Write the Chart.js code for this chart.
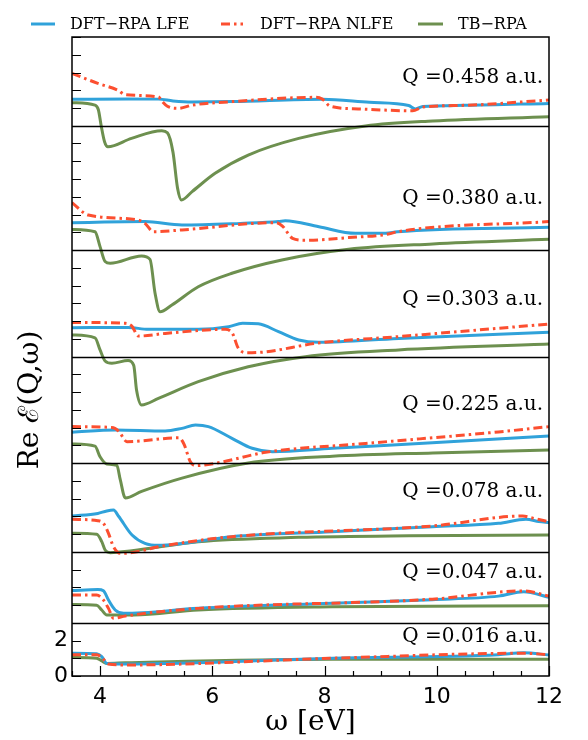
<!DOCTYPE html>
<html>
<head>
<meta charset="utf-8">
<script src="https://cdn.jsdelivr.net/npm/chart.js@4.4.1/dist/chart.umd.min.js"></script>
<style>
  html, body { margin: 0; padding: 0; background: #fff; }
  canvas { display: block; }
</style>
</head>
<body>
<canvas id="chart" width="588" height="740"></canvas>
<script>
// panels, top to bottom
const panelQ = ['0.458', '0.380', '0.303', '0.225', '0.078', '0.047', '0.016'];
const panelOffset = [31, 24, 18, 12, 7, 3, 0];
const yTickLabels = [0, 2];
const xTickLabels = [4, 6, 8, 10, 12];

// [omega (eV), Re eps], relative to the panel offset
const lfe458 = [[3.5,1.49],[4.5,1.51],[5.04,1.5],[5.3,1.4],[5.64,1.34],[6.36,1.36],[7.96,1.49],[8.8,1.32],[9.5,1.14],[9.62,0.95],[9.75,1.08],[10.5,1.15],[12,1.26]];
const nlfe458 = [[3.5,2.95],[3.96,2.39],[4.32,2.0],[4.45,1.75],[5.04,1.62],[5.1,1.4],[5.2,1.1],[5.4,0.98],[5.64,1.16],[6.36,1.36],[7.84,1.6],[7.96,1.5],[8.1,1.1],[8.6,0.95],[9.57,0.84],[9.75,1.05],[10.5,1.15],[12,1.45]];
const tb458 = [[3.5,1.3],[3.91,1.16],[3.97,0.9],[4.02,0.0],[4.08,-0.9],[4.14,-1.18],[4.56,-0.71],[5.1,-0.28],[5.2,-0.4],[5.3,-1.5],[5.38,-3.5],[5.45,-4.18],[5.64,-3.71],[6.05,-2.68],[6.64,-1.65],[7.54,-0.71],[8.73,-0.01],[9.93,0.27],[12,0.51]];

const lfe380 = [[3.5,1.54],[4.8,1.6],[5.46,1.41],[6.5,1.5],[7.18,1.6],[7.3,1.65],[7.9,1.31],[8.55,0.94],[9.09,0.94],[9.3,1.03],[12,1.28]];
const nlfe380 = [[3.5,2.67],[3.79,1.97],[4.68,1.69],[4.8,1.5],[4.95,1.03],[5.46,1.13],[7.13,1.54],[7.25,1.35],[7.43,0.66],[7.66,0.55],[8.43,0.7],[9.14,0.9],[9.3,1.03],[12,1.6]];
const tb380 = [[3.5,1.16],[3.91,1.03],[4.0,0.19],[4.09,-0.65],[4.18,-0.75],[4.74,-0.34],[4.89,-0.53],[4.98,-2.44],[5.07,-3.48],[5.28,-3.1],[5.75,-2.07],[6.35,-1.31],[7.24,-0.56],[8.43,0.04],[9.93,0.34],[12,0.6]];

const lfe303 = [[3.5,1.62],[4.5,1.64],[4.86,1.53],[5.75,1.53],[6.29,1.68],[6.54,1.87],[6.82,1.84],[7.18,1.4],[7.54,0.93],[7.89,0.8],[9.32,1.02],[12,1.36]];
const nlfe303 = [[3.5,1.92],[4.45,1.87],[4.57,1.7],[4.68,1.15],[5.16,1.3],[6.23,1.53],[6.36,1.3],[6.46,0.49],[6.62,0.21],[6.95,0.26],[7.84,0.74],[9.32,1.12],[12,1.83]];
const tb303 = [[3.5,1.21],[3.91,1.05],[4.0,0.37],[4.09,-0.25],[4.21,-0.38],[4.5,-0.23],[4.6,-0.5],[4.65,-1.89],[4.74,-2.73],[5.04,-2.36],[5.75,-1.42],[6.64,-0.58],[7.66,-0.01],[9.32,0.37],[12,0.7]];

const lfe225 = [[3.5,1.73],[4.27,1.86],[5.16,1.8],[5.46,1.95],[5.7,2.14],[5.93,2.05],[6.35,1.39],[6.71,0.83],[7.07,0.64],[8.14,0.83],[9.92,1.14],[12,1.52]];
const nlfe225 = [[3.5,2.05],[4.21,2.0],[4.33,1.8],[4.48,1.2],[5.4,1.42],[5.49,1.1],[5.61,0.07],[5.7,-0.15],[6.05,-0.02],[6.95,0.6],[8.73,1.1],[11.1,1.75],[12,2.05]];
const tb225 = [[3.5,1.07],[3.91,0.95],[4.0,0.35],[4.12,-0.06],[4.3,-0.14],[4.36,-0.94],[4.45,-1.97],[4.74,-1.6],[5.46,-0.85],[6.64,0.0],[8.14,0.38],[9.93,0.57],[12,0.73]];

const lfe078 = [[3.5,2.01],[3.96,2.16],[4.12,2.3],[4.24,2.35],[4.33,2.0],[4.57,0.94],[4.8,0.47],[5.04,0.36],[6.35,0.85],[8.14,1.13],[9.92,1.41],[11.1,1.6],[11.59,1.83],[11.82,1.7],[12,1.64]];
const nlfe078 = [[3.5,1.83],[3.96,1.75],[4.06,1.6],[4.15,1.04],[4.24,0.28],[4.36,-0.09],[4.57,-0.05],[5.04,0.28],[6.35,0.85],[9.92,1.45],[11.53,2.01],[11.7,1.9],[12,1.69]];
const tb078 = [[3.5,1.04],[3.94,0.98],[4.03,0.57],[4.09,0.1],[4.18,-0.05],[4.57,0.06],[5.75,0.57],[7.54,0.81],[9.5,0.9],[12,0.94]];

const lfe047 = [[3.5,1.81],[3.96,1.87],[4.06,1.8],[4.15,1.28],[4.27,0.72],[4.42,0.53],[5.75,0.81],[8.14,1.1],[9.92,1.3],[11.1,1.5],[11.55,1.75],[12,1.43]];
const nlfe047 = [[3.5,1.56],[3.94,1.56],[4.06,1.28],[4.15,0.81],[4.24,0.25],[4.45,0.38],[5.75,0.81],[9.92,1.33],[11.55,1.79],[12,1.5]];
const tb047 = [[3.5,1.03],[3.94,0.98],[4.03,0.72],[4.12,0.44],[4.6,0.44],[5.75,0.72],[8.14,0.9],[12,0.96]];

const lfe016 = [[3.5,1.28],[3.94,1.25],[4.03,1.09],[4.12,0.71],[4.45,0.68],[8.14,1.0],[11.1,1.2],[11.55,1.31],[12,1.18]];
const nlfe016 = [[3.5,1.2],[3.94,1.2],[4.03,1.05],[4.15,0.68],[4.45,0.62],[8.14,1.0],[11.55,1.28],[12,1.2]];
const tb016 = [[3.5,1.05],[3.94,1.0],[4.03,0.85],[4.12,0.71],[4.45,0.74],[8.14,0.94],[12,0.94]];

const lfeSeries = [lfe458, lfe380, lfe303, lfe225, lfe078, lfe047, lfe016];
const nlfeSeries = [nlfe458, nlfe380, nlfe303, nlfe225, nlfe078, nlfe047, nlfe016];
const tbSeries = [tb458, tb380, tb303, tb225, tb078, tb047, tb016];

// where the Q text sits in each panel (axis units)
const qLabelPos = [33.7, 26.9, 21.2, 15.3, 10.4, 5.8, 2.2];

const blue = '#30a2da';
const red = '#fc4f30';
const green = '#6d904f';
const redDash = [9, 4, 2.5, 4];

const datasets = [];
panelQ.forEach((q, i) => {
  const shift = pts => pts.map(p => ({ x: p[0], y: p[1] + panelOffset[i] }));
  datasets.push({ label: 'NLFE ' + q, data: shift(nlfeSeries[i]), borderColor: red, borderDash: redDash, order: 1 });
  datasets.push({ label: 'LFE ' + q, data: shift(lfeSeries[i]), borderColor: blue, order: 2 });
  datasets.push({ label: 'TB ' + q, data: shift(tbSeries[i]), borderColor: green, order: 3 });
});

const decor = {
  id: 'decor',
  afterDatasetsDraw(chart) {
    const { ctx, chartArea: { left, right, top, bottom }, scales: { x, y } } = chart;
    ctx.save();
    ctx.strokeStyle = '#000';
    ctx.lineWidth = 1.5;

    ctx.beginPath();
    panelOffset.forEach(off => {
      if (off <= 0) return;
      const py = Math.round(y.getPixelForValue(off)) + 0.5;
      ctx.moveTo(left, py);
      ctx.lineTo(right, py);
    });
    ctx.stroke();

    ctx.strokeRect(left, top, right - left, bottom - top);

    // ticks point inwards
    ctx.lineWidth = 1.2;
    ctx.beginPath();
    y.ticks.forEach(t => {
      const py = Math.round(y.getPixelForValue(t.value)) + 0.5;
      ctx.moveTo(left, py);
      ctx.lineTo(left + 9, py);
    });
    x.ticks.forEach(t => {
      const px = Math.round(x.getPixelForValue(t.value)) + 0.5;
      const len = xTickLabels.includes(t.value) ? 10 : 5;
      ctx.moveTo(px, bottom);
      ctx.lineTo(px, bottom - len);
    });
    ctx.stroke();

    ctx.fillStyle = '#000';
    ctx.font = '22px "DejaVu Sans"';
    ctx.textAlign = 'right';
    ctx.textBaseline = 'middle';
    yTickLabels.forEach(v => {
      ctx.fillText(String(v), left - 4, y.getPixelForValue(v));
    });

    ctx.font = '20px "DejaVu Serif"';
    panelQ.forEach((q, i) => {
      ctx.fillText('Q =' + q + ' a.u.', right - 6, y.getPixelForValue(qLabelPos[i]));
    });

    // legend
    ctx.font = '16px "DejaVu Serif"';
    ctx.textAlign = 'left';
    ctx.textBaseline = 'alphabetic';
    ctx.lineWidth = 3;
    const ly = 24;
    ctx.strokeStyle = blue;
    ctx.beginPath(); ctx.moveTo(31, ly); ctx.lineTo(55, ly); ctx.stroke();
    ctx.fillText('DFT\u2212RPA LFE', 70, 29);
    ctx.strokeStyle = red;
    ctx.setLineDash(redDash);
    ctx.beginPath(); ctx.moveTo(221, ly); ctx.lineTo(243, ly); ctx.stroke();
    ctx.setLineDash([]);
    ctx.fillText('DFT\u2212RPA NLFE', 260, 29);
    ctx.strokeStyle = green;
    ctx.beginPath(); ctx.moveTo(418, ly); ctx.lineTo(443, ly); ctx.stroke();
    ctx.fillText('TB\u2212RPA', 458, 29);

    // axis titles
    ctx.font = '28px "DejaVu Serif"';
    ctx.textAlign = 'center';
    ctx.fillText('\u03c9 [eV]', (left + right) / 2, 730);
    ctx.translate(38, 400);
    ctx.rotate(-Math.PI / 2);
    ctx.fillText('Re \u2130(Q,\u03c9)', 0, 0);
    ctx.restore();
  }
};

new Chart(document.getElementById('chart'), {
  type: 'line',
  data: { datasets },
  options: {
    responsive: false,
    animation: false,
    devicePixelRatio: 1,
    layout: { padding: { top: 37, right: 39, left: 0, bottom: 0 } },
    elements: {
      point: { radius: 0 },
      line: { borderWidth: 3, cubicInterpolationMode: 'monotone', fill: false }
    },
    plugins: { legend: { display: false }, tooltip: { enabled: false } },
    scales: {
      x: {
        type: 'linear', min: 3.5, max: 12,
        grid: { display: false }, border: { display: false },
        ticks: {
          stepSize: 0.5, autoSkip: false, maxRotation: 0, padding: 0, color: '#000',
          font: { family: 'DejaVu Sans', size: 22 },
          callback: v => xTickLabels.includes(v) ? String(v) : ''
        },
        afterFit: s => { s.height = 64; }
      },
      y: {
        type: 'linear', min: 0, max: 36,
        grid: { display: false }, border: { display: false },
        ticks: { stepSize: 1, autoSkip: false, display: false },
        afterFit: s => { s.width = 72; }
      }
    }
  },
  plugins: [decor]
});
</script>
</body>
</html>
